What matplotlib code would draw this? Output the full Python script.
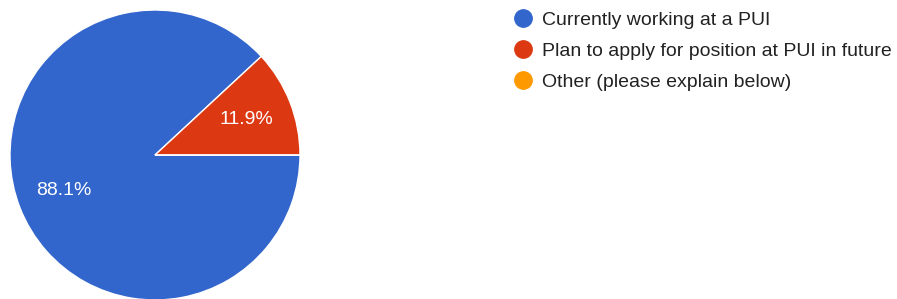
import matplotlib.pyplot as plt
from matplotlib.lines import Line2D

plt.rcParams['font.family'] = ['Liberation Sans', 'DejaVu Sans']

# Response data
labels = ["Currently working at a PUI",
          "Plan to apply for position at PUI in future",
          "Other (please explain below)"]
values = [88.1, 11.9, 0.0]
colors = ["#3366CC", "#DC3912", "#FF9900"]


def pct_label(p):
    return "%.1f%%" % p if p > 1 else ""


fig = plt.figure(figsize=(8.97, 2.99), dpi=100)

# pie axes: circle spans x 10..300 px, y 10..300 px from top
ax = fig.add_axes([10 / 897, -1 / 299, 290 / 897, 290 / 299])
wedges, texts, autotexts = ax.pie(
    values, colors=colors, startangle=0, counterclock=False,
    autopct=pct_label, pctdistance=0.675, radius=1.0,
    wedgeprops=dict(edgecolor="white", linewidth=1.0),
    textprops=dict(color="white", fontsize=14))
ax.set_xlim(-1, 1)
ax.set_ylim(-1, 1)
ax.set_aspect("equal")

# Legend with round markers
handles = [Line2D([0], [0], marker="o", linestyle="none", markersize=12.5,
                  markerfacecolor=c, markeredgecolor=c) for c in colors]
fig.legend(handles, labels, loc="upper left",
           bbox_to_anchor=(500 / 897, 1 + 2 / 299), frameon=False,
           fontsize=14, handlelength=1.0, handletextpad=0.45,
           labelspacing=0.68, borderpad=0.2, labelcolor="#222222")

plt.savefig("out.png", dpi=100)
